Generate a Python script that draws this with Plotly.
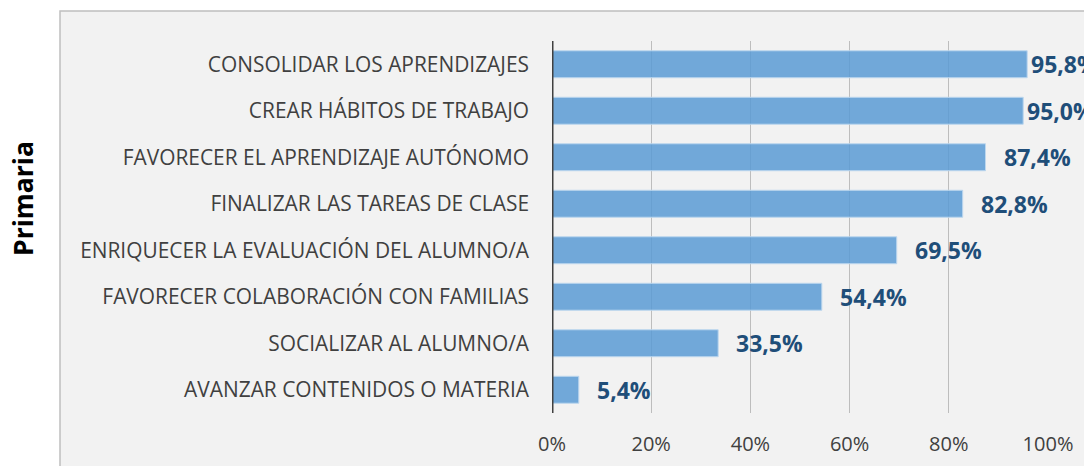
import plotly.graph_objects as go

categories = [
    "CONSOLIDAR LOS APRENDIZAJES",
    "CREAR HÁBITOS DE TRABAJO",
    "FAVORECER EL APRENDIZAJE AUTÓNOMO",
    "FINALIZAR LAS TAREAS DE CLASE",
    "ENRIQUECER LA EVALUACIÓN DEL ALUMNO/A",
    "FAVORECER COLABORACIÓN CON FAMILIAS",
    "SOCIALIZAR AL ALUMNO/A",
    "AVANZAR CONTENIDOS O MATERIA",
]
values = [95.8, 95.0, 87.4, 82.8, 69.5, 54.4, 33.5, 5.4]
tick_vals = [0, 20, 40, 60, 80, 100]
tick_text = ["0%", "20%", "40%", "60%", "80%", "100%"]
axis_title = "Primaria"

FONT = "Open Sans"
W, H = 1092, 466
ML, MR, MT, MB = 544, 52, 33, 61
PW, PH = W - ML - MR, H - MT - MB

def px_x(px):
    return (px - ML) / PW

def px_y(py):
    return (H - MB - py) / PH

fig = go.Figure()
fig.add_trace(go.Bar(
    x=values, y=categories, orientation="h",
    marker=dict(color="rgba(91,155,213,0.85)",
                line=dict(color="rgba(189,215,238,1)", width=1)),
    width=0.58, hoverinfo="skip",
))

for c, v in zip(categories, values):
    fig.add_annotation(
        x=v, y=c, xref="x", yref="y", xanchor="left", yanchor="middle",
        text="<b>" + f"{v:.1f}".replace(".", ",") + "%</b>",
        showarrow=False, xshift=2 if v > 90 else 16,
        font=dict(family=FONT, size=23, color="#1f4e79"),
    )

fig.add_annotation(
    xref="paper", yref="paper", x=px_x(15), y=px_y(191),
    text="<b>" + axis_title + "</b>", textangle=-90, showarrow=False,
    font=dict(family=FONT, size=26.5, color="#000000"),
    xanchor="center", yanchor="middle", borderpad=0,
)

fig.add_shape(
    type="rect", xref="paper", yref="paper", layer="below",
    x0=px_x(52), x1=px_x(1110),
    y0=px_y(480), y1=px_y(3),
    fillcolor="#f2f2f2", line=dict(color="#bfbfbf", width=1.5),
)

fig.update_layout(
    width=W, height=H,
    margin=dict(l=ML, r=MR, t=MT, b=MB),
    paper_bgcolor="white", plot_bgcolor="rgba(0,0,0,0)",
    showlegend=False,
    xaxis=dict(range=[0, 100], tickvals=tick_vals, ticktext=tick_text,
               showgrid=True, gridcolor="#bdbdbd", gridwidth=1,
               zeroline=False, showline=False,
               tickfont=dict(family=FONT, size=20, color="#404040"),
               ticklabelstandoff=17, fixedrange=True),
    yaxis=dict(autorange="reversed", showgrid=False, zeroline=False,
               showline=False,
               tickfont=dict(family=FONT, size=20.9, color="#404040"),
               ticklabelstandoff=22, fixedrange=True),
)
fig.add_shape(type="line", xref="x", yref="paper", x0=0, x1=0, y0=0, y1=1,
              line=dict(color="#404040", width=3))

fig.write_html("out.html")
